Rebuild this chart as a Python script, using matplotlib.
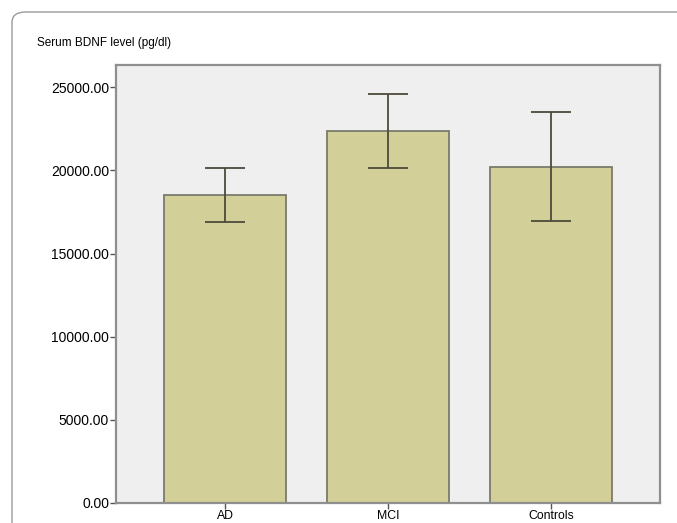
import numpy as np
import matplotlib.pyplot as plt
from matplotlib.patches import FancyBboxPatch

# Data
groups = ['AD', 'MCI', 'Controls']
mean_level = [18520, 22390, 20225]
err_upper = [20130, 24580, 23533]
err_lower = [16882, 20165, 16960]
y_ticks = [0, 5000, 10000, 15000, 20000, 25000]

W, H = 677, 523
fig = plt.figure(figsize=(W / 100, H / 100), dpi=100)

# outer rounded frame, runs off the right and bottom edges
frame = FancyBboxPatch((12 / W, -0.1), 1.2, (H - 12) / H + 0.1,
                       boxstyle="round,pad=0,rounding_size=0.02",
                       transform=fig.transFigure, facecolor='none',
                       edgecolor='#9a9a9a', linewidth=1.0, zorder=-1)
fig.patches.append(frame)

ax = fig.add_axes([116 / W, 20 / H, 544 / W, 438 / H])
ax.set_facecolor('#f0eff0')

x = np.arange(len(groups))
means = np.array(mean_level)
yerr = [means - np.array(err_lower), np.array(err_upper) - means]

ax.bar(x, means, width=0.75, color='#d3cf98', edgecolor='#7a7a6c',
       linewidth=1.3, zorder=2)
ax.errorbar(x, means, yerr=yerr, fmt='none', ecolor='#4b4b3c',
            elinewidth=1.3, capsize=14.5, capthick=1.3, zorder=3)

ax.set_xlim(-0.671, 2.671)
ax.set_ylim(0, 26340)
ax.set_yticks(y_ticks)
ax.set_yticklabels([f'{v:.2f}' for v in y_ticks], fontsize=10,
                   family='Liberation Sans')
ax.set_xticks(x)
ax.set_xticklabels(groups, fontsize=8.8, family='Liberation Sans')

for s in ax.spines.values():
    s.set_color('#8f8f8f')
    s.set_linewidth(1.6)
ax.tick_params(axis='y', length=4, width=1, color='#555555', pad=1)
ax.tick_params(axis='x', length=4, width=1, color='#555555', pad=1)

fig.text(37 / W, 1 - 43 / H, 'Serum BDNF level (pg/dl)', fontsize=8.5,
         family='Liberation Sans', va='center', ha='left')

fig.savefig('out.png', dpi=100)
